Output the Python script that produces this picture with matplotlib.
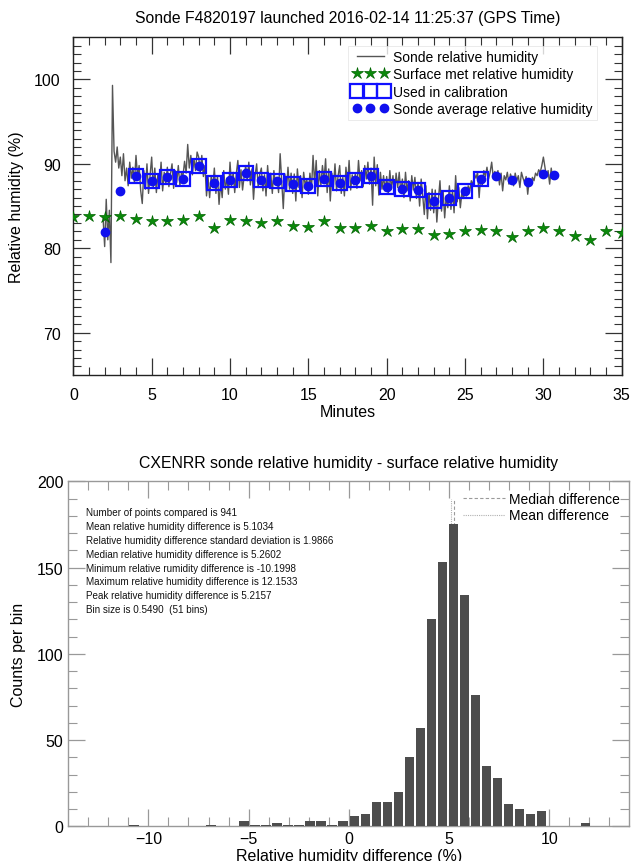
import numpy as np
import matplotlib
matplotlib.use("Agg")
import matplotlib.pyplot as plt
from matplotlib.lines import Line2D

plt.rcParams['font.family'] = ['Liberation Sans', 'DejaVu Sans']

# ---------------- sonde profile data ----------------
trace_start = 1.9      # minutes after launch of first sonde sample
trace_step = 0.1       # minutes between sonde samples
sonde_rh = [
    83.5,
    80.2, 85.8, 81.0, 84.5, 78.3, 99.3, 91.5, 90.2, 92.0, 89.5,
    90.8, 88.6, 91.2, 88.0, 89.5, 87.4, 90.2, 88.3, 89.6, 87.8,
    91.0, 88.5, 89.8, 86.8, 85.3, 89.2, 87.0, 90.0, 86.5, 88.6,
    90.8, 87.2, 89.5, 86.6, 88.8, 87.5, 90.2, 86.8, 89.0, 87.6,
    89.6, 87.3, 88.8, 90.0, 87.1, 89.2, 87.8, 89.8, 87.4, 88.9,
    88.6, 90.3, 88.9, 92.3, 89.5, 91.0, 88.7, 90.6, 89.2, 91.4,
    90.8, 89.0, 91.0, 88.5, 89.8, 86.2, 88.4, 86.0, 88.6, 87.2,
    89.5, 86.5, 88.6, 85.2, 87.8, 86.0, 89.2, 87.0, 88.3, 86.4,
    90.2, 87.4, 89.0, 86.6, 88.8, 90.4, 87.2, 89.3, 86.9, 88.5,
    89.8, 88.0, 90.2, 87.5, 89.4, 85.8, 88.6, 90.0, 87.2, 88.8,
    89.5, 86.8, 88.7, 86.2, 89.8, 87.3, 88.9, 86.5, 89.2, 87.6,
    88.4, 86.6, 91.2, 88.0, 84.7, 88.8, 86.8, 89.6, 87.0, 88.9,
    86.5, 88.8, 85.6, 89.4, 87.2, 88.6, 86.0, 89.0, 87.4, 88.2,
    86.4, 88.9, 87.0, 91.0, 87.6, 90.4, 86.2, 89.2, 87.5, 89.8,
    88.0, 90.6, 86.6, 89.4, 85.6, 88.9, 87.2, 90.0, 86.8, 88.6,
    89.8, 86.5, 88.4, 86.2, 89.6, 87.4, 90.4, 86.9, 88.7, 87.5,
    88.9, 87.1, 90.4, 88.0, 89.2, 87.3, 89.8, 88.2, 90.2, 87.6,
    89.5, 85.1, 90.8, 87.4, 89.9, 86.3, 89.0, 87.0, 88.6, 86.8,
    88.5, 86.4, 89.2, 87.0, 88.6, 86.2, 88.9, 87.2, 89.0, 86.6,
    88.2, 86.0, 89.0, 86.8, 88.0, 85.6, 88.6, 86.9, 88.4, 85.9,
    87.8, 85.0, 88.2, 86.2, 84.0, 87.4, 83.5, 86.6, 84.5, 87.0,
    84.2, 86.9, 83.1, 85.8, 88.0, 84.4, 86.8, 83.6, 86.2, 84.8,
    87.4, 84.6, 86.9, 84.2, 88.6, 85.5, 87.2, 84.8, 86.6, 85.9,
    87.0, 86.2, 87.4, 86.8, 88.0, 87.5, 88.8, 88.3, 89.0, 86.0,
    88.6, 87.4, 89.2, 88.5, 89.6, 88.2, 89.0, 90.2, 88.4, 89.1,
    88.4, 89.2, 87.5, 88.9, 86.8, 88.6, 88.1, 89.0, 87.6, 88.8,
    88.2, 87.4, 88.9, 88.0, 88.6, 87.2, 89.0, 88.3, 87.8, 88.5,
    86.4, 88.2, 87.6, 88.4, 88.0, 88.9, 88.6, 89.3, 89.0, 89.8,
    90.8, 89.6, 88.4, 89.2, 87.6, 89.5, 88.2, 88.9,
]

surface_minutes = list(range(0, 36))
surface_rh = [83.75, 83.87, 83.75, 83.8, 83.5, 83.27, 83.2, 83.3, 83.8, 82.4,
              83.3, 83.27, 83.0, 83.2, 82.65, 82.5, 83.2, 82.4, 82.4, 82.6,
              82.1, 82.3, 82.3, 81.6, 81.7, 82.0, 82.2, 82.0, 81.33, 82.1,
              82.35, 82.0, 81.45, 81.0, 82.0, 81.8]

avg_minutes = [2, 3, 4, 5, 6, 7, 8, 9, 10, 11, 12, 13, 14, 15, 16, 17, 18, 19,
               20, 21, 22, 23, 24, 25, 26, 27, 28, 29, 30, 30.7]
avg_rh = [81.9, 86.8, 88.6, 88.0, 88.4, 88.2, 89.7, 87.7, 88.1, 88.9, 88.1,
          88.0, 87.6, 87.4, 88.2, 87.7, 88.1, 88.6, 87.3, 87.0, 86.95, 85.6,
          85.9, 86.8, 88.2, 88.6, 88.1, 87.9, 88.8, 88.7]
calib_first, calib_last = 4, 26   # minutes whose averages were used in calibration

# ---------------- difference histogram data ----------------
hist_min, hist_max, n_bins = -14.0, 14.0, 51
bin_counts = [0, 0, 0, 0, 0, 0, 1, 0, 0, 0, 0, 0, 0, 1, 0, 0, 3, 1, 1, 2,
              1, 1, 3, 3, 1, 3, 6, 7, 14, 14, 20, 40, 57, 120, 153, 175, 134,
              76, 35, 28, 13, 10, 7, 9, 0, 0, 0, 2, 0, 0, 0]
n_points = 941
mean_diff = 5.1034
std_diff = 1.9866
median_diff = 5.2602
min_diff = -10.1998
max_diff = 12.1533
peak_diff = 5.2157

# ---------------- figure ----------------
W, H, DPI = 631, 862, 100
fig = plt.figure(figsize=(W / DPI, H / DPI), dpi=DPI)

ax1 = fig.add_axes([0.1162, 0.5640, 0.8691, 0.3916])
t = trace_start + trace_step * np.arange(len(sonde_rh))
ax1.plot(t, sonde_rh, color='#555555', lw=1.0, zorder=2)
ax1.plot(surface_minutes, surface_rh, ls='none', marker='*', ms=9,
         color='#0a8a0a', mec='#006400', mew=0.5, zorder=3)
avg_minutes_arr = np.array(avg_minutes)
avg_rh_arr = np.array(avg_rh)
used = (avg_minutes_arr >= calib_first) & (avg_minutes_arr <= calib_last)
ax1.plot(avg_minutes_arr[used], avg_rh_arr[used], ls='none', marker='s', ms=9.5,
         mfc='none', mec='#1010ff', mew=1.6, zorder=4)
ax1.plot(avg_minutes_arr, avg_rh_arr, ls='none', marker='o', ms=6,
         color='#1010ee', zorder=5)

ax1.set_xlim(0, 35)
ax1.set_ylim(65, 105)
ax1.set_xticks(np.arange(0, 36, 5))
ax1.set_xticks(np.arange(0, 36, 1), minor=True)
ax1.set_yticks([70, 80, 90, 100])
ax1.set_yticks(np.arange(66, 105, 1), minor=True)
ax1.tick_params(which='both', direction='in', top=True, right=True,
                labelsize=11.5, color='#333333', pad=9)
ax1.tick_params(which='major', length=12.5, width=0.9)
ax1.tick_params(which='minor', length=6, width=0.8)
for s in ax1.spines.values():
    s.set_linewidth(1.0)
    s.set_color('#222222')
ax1.set_xlabel('Minutes', fontsize=11.5, labelpad=1)
ax1.set_ylabel('Relative humidity (%)', fontsize=11.5, labelpad=7)
ax1.set_title('Sonde F4820197 launched 2016-02-14 11:25:37 (GPS Time)',
              fontsize=11.3, pad=11)

handles1 = [
    Line2D([], [], color='#555555', lw=1.0),
    Line2D([], [], ls='none', marker='*', ms=9, color='#0a8a0a', mec='#006400', mew=0.5),
    Line2D([], [], ls='none', marker='s', ms=9.5, mfc='none', mec='#1010ff', mew=1.6),
    Line2D([], [], ls='none', marker='o', ms=6, color='#1010ee'),
]
labels1 = ['Sonde relative humidity', 'Surface met relative humidity',
           'Used in calibration', 'Sonde average relative humidity']
leg1 = ax1.legend(handles1, labels1, loc='upper right', bbox_to_anchor=(0.955, 0.975),
                  numpoints=3, fontsize=10, frameon=True, fancybox=False,
                  handlelength=2.6, handletextpad=0.35, labelspacing=0.25,
                  borderpad=0.3, borderaxespad=0.0)
leg1.get_frame().set_edgecolor('#e2e2e2')
leg1.get_frame().set_linewidth(0.6)

# ---------------- histogram ----------------
ax2 = fig.add_axes([0.1082, 0.0403, 0.8891, 0.4002])
bin_size = (hist_max - hist_min) / n_bins
bin_pos = hist_min + bin_size * np.arange(n_bins)
ax2.bar(bin_pos, bin_counts, width=bin_size * 0.87, color='#4d4d4d',
        edgecolor='none', zorder=3)
ax2.vlines(median_diff, 0, 190, colors='#9a9a9a', linestyles=(0, (3, 2)),
           lw=0.8, zorder=2)
ax2.vlines(mean_diff, 0, 190, colors='#b0b0b0', linestyles=(0, (1, 1)),
           lw=0.8, zorder=2)

ax2.set_xlim(hist_min, hist_max)
ax2.set_ylim(0, 200)
ax2.set_xticks([-10, -5, 0, 5, 10])
ax2.set_xticks(np.arange(-13, 14, 1), minor=True)
ax2.set_yticks([0, 50, 100, 150, 200])
ax2.set_yticks(np.arange(0, 201, 10), minor=True)
ax2.tick_params(which='both', direction='in', top=True, right=True,
                labelsize=11.5, color='#999999')
ax2.tick_params(which='major', length=12.5, width=0.9)
ax2.tick_params(which='minor', length=6.5, width=0.8)
for s in ax2.spines.values():
    s.set_linewidth(1.0)
    s.set_color('#999999')
ax2.set_xlabel('Relative humidity difference (%)', fontsize=11.5, labelpad=1)
ax2.set_ylabel('Counts per bin', fontsize=11.5, labelpad=8)
ax2.set_title('CXENRR sonde relative humidity - surface relative humidity',
              fontsize=11.4, pad=10)

stats_lines = [
    f'Number of points compared is {n_points}',
    f'Mean relative humidity difference is {mean_diff:.4f}',
    f'Relative humidity difference standard deviation is {std_diff:.4f}',
    f'Median relative humidity difference is {median_diff:.4f}',
    f'Minimum relative rumidity difference is {min_diff:.4f}',
    f'Maximum relative humidity difference is {max_diff:.4f}',
    f'Peak relative humidity difference is {peak_diff:.4f}',
    f'Bin size is {bin_size:.4f}  ({n_bins} bins)',
]
for i, line in enumerate(stats_lines):
    ax2.text(0.032, 0.910 - i * 0.0400, line, transform=ax2.transAxes,
             fontsize=7.1, va='center', ha='left', color='#111111')

handles2 = [Line2D([], [], color='#9a9a9a', lw=0.8, ls=(0, (3, 2))),
            Line2D([], [], color='#b0b0b0', lw=0.8, ls=(0, (1, 1)))]
ax2.legend(handles2, ['Median difference', 'Mean difference'], loc='upper right',
           bbox_to_anchor=(0.995, 0.99), frameon=False, fontsize=10,
           handlelength=3.0, handletextpad=0.3, labelspacing=0.2,
           borderpad=0.3, borderaxespad=0.2)

fig.savefig('out.png', dpi=DPI)
